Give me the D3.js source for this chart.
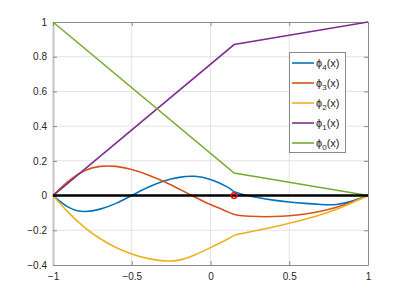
<!DOCTYPE html>
<html>
<head>
<meta charset="utf-8">
<script src="https://cdn.jsdelivr.net/npm/d3@7"></script>
<style>
  body { margin: 0; background: #fff; }
  text { font-family: "Liberation Sans", Arial, sans-serif; }
</style>
</head>
<body>
<svg id="chart" width="407" height="298"></svg>
<script>
// sample points (x) for the curved basis functions
var xs = [-1, -0.9, -0.8, -0.7, -0.6, -0.5, -0.4, -0.3, -0.2, -0.1, 0, 0.1, 0.15,
          0.2, 0.3, 0.4, 0.5, 0.6, 0.7, 0.8, 0.9, 1];
var phi4 = [0, -0.068, -0.092, -0.078, -0.045, 0, 0.046, 0.083, 0.105, 0.111, 0.092, 0.053, 0.022,
            0.008, -0.011, -0.026, -0.037, -0.045, -0.051, -0.051, -0.032, 0];
var phi3 = [0, 0.085, 0.143, 0.168, 0.168, 0.15, 0.12, 0.082, 0.038, -0.008, -0.052, -0.09, -0.109,
            -0.116, -0.121, -0.121, -0.116, -0.106, -0.09, -0.067, -0.037, 0];
var phi2 = [0, -0.1, -0.183, -0.249, -0.299, -0.336, -0.362, -0.376, -0.372, -0.342, -0.3, -0.255, -0.229,
            -0.219, -0.2, -0.181, -0.16, -0.137, -0.111, -0.079, -0.041, 0];
// hat functions (piecewise linear)
var hatX = [-1, 0.15, 1];
var phi1 = [0, 0.87, 1];
var phi0 = [1, 0.13, 0];
var node = 0.15;

var xTicks = [-1, -0.5, 0, 0.5, 1];
var yTicks = [-0.4, -0.2, 0, 0.2, 0.4, 0.6, 0.8, 1];
var legendNames = ["4", "3", "2", "1", "0"];
var colors = ["#0072BD", "#D95319", "#EDB120", "#7E2F8E", "#77AC30"];

var svg = d3.select("#chart");
var x = d3.scaleLinear().domain([-1, 1]).range([53, 368]);
var y = d3.scaleLinear().domain([-0.4, 1]).range([265, 22]);

// grid
svg.append("g").selectAll("line").data(xTicks.slice(1, -1)).enter().append("line")
  .attr("x1", d => x(d)).attr("x2", d => x(d)).attr("y1", y(-0.4)).attr("y2", y(1))
  .attr("stroke", "#e3e3e3").attr("stroke-width", 1);
svg.append("g").selectAll("line").data(yTicks.slice(1, -1)).enter().append("line")
  .attr("y1", d => y(d)).attr("y2", d => y(d)).attr("x1", x(-1)).attr("x2", x(1))
  .attr("stroke", "#e3e3e3").attr("stroke-width", 1);

// axes
var xAxis = d3.axisBottom(x).tickValues(xTicks).tickSizeInner(-4).tickSizeOuter(0).tickPadding(8)
  .tickFormat(d3.format("~g"));
var yAxis = d3.axisLeft(y).tickValues(yTicks).tickSizeInner(-4).tickSizeOuter(0).tickPadding(6)
  .tickFormat(d3.format("~g"));
var gx = svg.append("g").attr("transform", "translate(0," + y(-0.4) + ")").call(xAxis);
var gy = svg.append("g").attr("transform", "translate(" + x(-1) + ",0)").call(yAxis);
svg.append("g").attr("transform", "translate(0," + y(1) + ")")
  .call(d3.axisTop(x).tickValues(xTicks).tickSizeInner(-4).tickSizeOuter(0).tickFormat(""));
svg.append("g").attr("transform", "translate(" + x(1) + ",0)")
  .call(d3.axisRight(y).tickValues(yTicks).tickSizeInner(-4).tickSizeOuter(0).tickFormat(""));
svg.selectAll(".domain").attr("stroke", "#8a8a8a");
svg.selectAll(".tick line").attr("stroke", "#8a8a8a");
svg.selectAll(".tick text").attr("fill", "#262626").style("font-size", "10px");
gy.select(".domain").attr("stroke", "#c4c4c4").attr("stroke-width", 2);

// curves: split at the interior node so the kink stays sharp
var line = d3.line().x(d => x(d[0])).y(d => y(d[1])).curve(d3.curveNatural);
var lin = d3.line().x(d => x(d[0])).y(d => y(d[1]));
var k = xs.indexOf(node);
function pieces(vals) {
  var pts = xs.map((v, i) => [v, vals[i]]);
  return [pts.slice(0, k + 1), pts.slice(k)];
}
[phi4, phi3, phi2].forEach(function(vals, i) {
  pieces(vals).forEach(function(p) {
    svg.append("path").attr("d", line(p)).attr("fill", "none")
      .attr("stroke", colors[i]).attr("stroke-width", 1.6);
  });
});
[phi1, phi0].forEach(function(vals, i) {
  svg.append("path").attr("d", lin(hatX.map((v, j) => [v, vals[j]]))).attr("fill", "none")
    .attr("stroke", colors[i + 3]).attr("stroke-width", 1.6);
});

// zero line and node marker
svg.append("line").attr("x1", x(-1)).attr("x2", x(1)).attr("y1", y(0)).attr("y2", y(0))
  .attr("stroke", "#000").attr("stroke-width", 2.6);
svg.append("circle").attr("cx", x(node)).attr("cy", y(0)).attr("r", 2.8)
  .attr("fill", "none").attr("stroke", "#ff0000").attr("stroke-width", 1.4);

// legend
var lg = svg.append("g");
lg.append("rect").attr("x", 289.5).attr("y", 52.5).attr("width", 56).attr("height", 100)
  .attr("fill", "#fff").attr("stroke", "#8a8a8a").attr("stroke-width", 1);
legendNames.forEach(function(n, i) {
  var yy = 63 + i * 20;
  lg.append("line").attr("x1", 292).attr("x2", 314).attr("y1", yy).attr("y2", yy)
    .attr("stroke", colors[i]).attr("stroke-width", 1.6);
  var t = lg.append("text").attr("x", 316).attr("y", yy + 3.5).attr("fill", "#262626")
    .style("font-size", "11px");
  t.append("tspan").text("ϕ");
  t.append("tspan").attr("dy", 3).style("font-size", "8px").text(n);
  t.append("tspan").attr("dy", -3).text("(x)");
});
</script>
</body>
</html>
